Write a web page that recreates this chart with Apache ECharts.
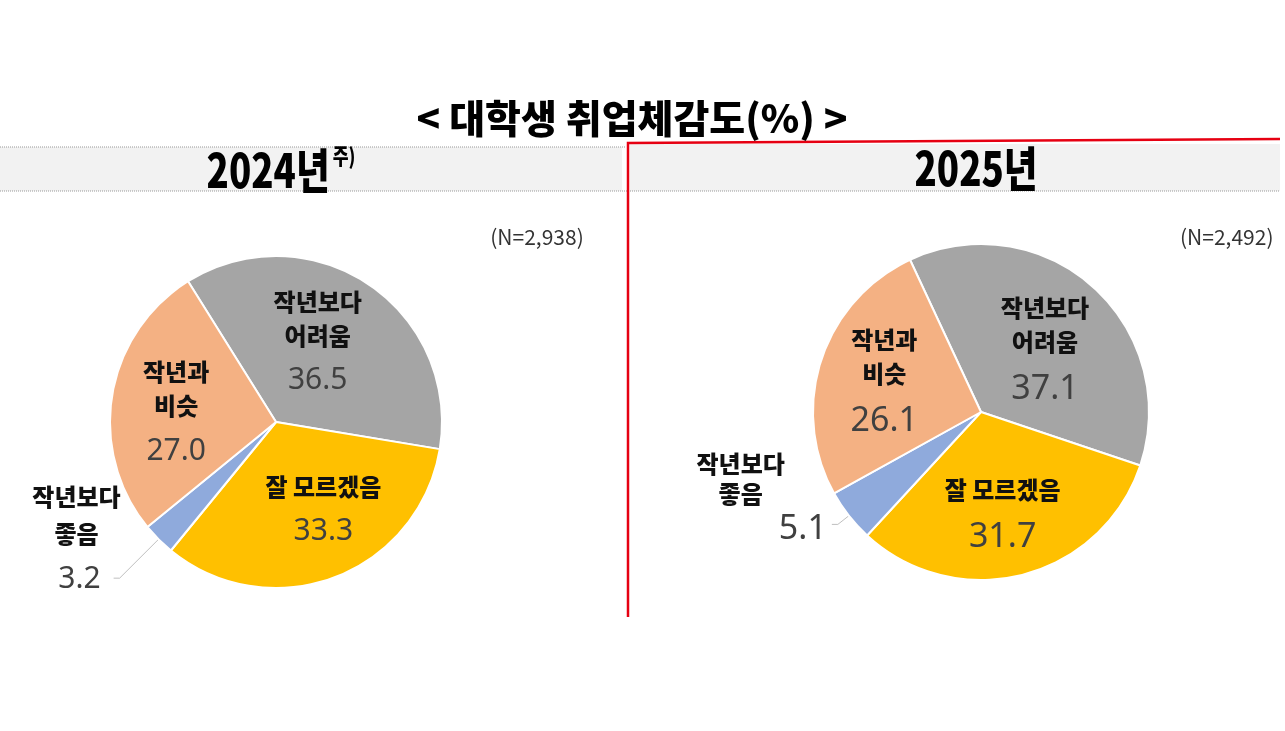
<!DOCTYPE html>
<html>
<head>
<meta charset="utf-8">
<script src="https://cdn.jsdelivr.net/npm/echarts@6/dist/echarts.min.js"></script>
<style>
  html, body { margin: 0; padding: 0; background: #fff; }
  #chart { width: 1285px; height: 731px; }
</style>
</head>
<body>
<div id="chart"></div>
<script>
// 데이터 =====================================================
var chartTitle = '< 대학생 취업체감도(%) >'
var years = ['2024년', '2025년']
var yearNotes = ['주)', '']
var sampleSizes = ['(N=2,938)', '(N=2,492)']
var categories = ['작년보다\n어려움', '잘 모르겠음', '작년보다\n좋음', '작년과\n비슷']
var values2024 = [36.5, 33.3, 3.2, 27.0]
var values2025 = [37.1, 31.7, 5.1, 26.1]

var colors = ['#A5A5A5', '#FFC000', '#8FAADC', '#F4B183']
var KR = '"Noto Sans CJK KR", "Noto Sans", sans-serif'
var NUM = '"Noto Sans", "Open Sans", sans-serif'

// 라벨 위치 미세 조정 (dx, dy)
var nudge2024 = [[-6, -4], [17, 12], [0, 0], [-15, 9]]
var nudge2025 = [[6, 8], [0, 24], [0, 0], [-14, 2]]

function pieSeries(values, center, radius, startAngle, valueSize, nudge, small) {
    var data = categories.map(function (name, i) {
        var item = { name: name, value: values[i], itemStyle: { color: colors[i] } }
        if (i === 2) {
            item.label = {
                position: 'outside',
                formatter: function (p) {
                    return '{sn|' + p.name + '}\n{sv|' + p.value.toFixed(1) + '}'
                }
            }
            item.labelLine = {
                show: true,
                length: small.length,
                length2: small.length2,
                lineStyle: { color: '#BFBFBF', width: 1 }
            }
        }
        return item
    })
    return {
        type: 'pie',
        center: center,
        radius: radius,
        startAngle: startAngle,
        clockwise: true,
        avoidLabelOverlap: false,
        silent: true,
        itemStyle: { borderColor: '#fff', borderWidth: 2 },
        label: {
            position: 'inside',
            formatter: function (p) {
                return '{n|' + p.name + '}\n{v|' + p.value.toFixed(1) + '}'
            },
            rich: {
                n: { fontFamily: KR, fontSize: 24, fontWeight: 900, color: '#111', lineHeight: 34 },
                v: { fontFamily: NUM, fontSize: valueSize, color: '#404040', lineHeight: valueSize + 26 },
                sn: { fontFamily: KR, fontSize: 24, fontWeight: 900, color: '#111', lineHeight: small.nameLine, align: 'center', padding: small.namePad },
                sv: { fontFamily: NUM, fontSize: valueSize, color: '#404040', lineHeight: small.valueLine, align: 'right', padding: small.valuePad }
            }
        },
        labelLine: { show: false },
        labelLayout: function (params) {
            if (params.dataIndex === 2) {
                return { verticalAlign: 'bottom', dx: small.dx, dy: small.dy }
            }
            return { dx: nudge[params.dataIndex][0], dy: nudge[params.dataIndex][1] }
        },
        data: data
    }
}

var myChart = echarts.init(document.getElementById('chart'))

var option = {
    backgroundColor: '#fff',
    animation: false,
    graphic: [
        // 헤더 띠
        { type: 'rect', shape: { x: 0, y: 147, width: 622, height: 44 }, style: { fill: '#F2F2F2' } },
        { type: 'rect', shape: { x: 630, y: 144, width: 650, height: 47 }, style: { fill: '#F2F2F2' } },
        { type: 'line', shape: { x1: 0, y1: 147, x2: 626, y2: 147 }, style: { stroke: '#9A9A9A', lineWidth: 1, lineDash: [1, 1] } },
        { type: 'line', shape: { x1: 0, y1: 191, x2: 1280, y2: 191 }, style: { stroke: '#9A9A9A', lineWidth: 1, lineDash: [1, 1] } },
        { type: 'polyline', shape: { points: [[628, 617], [628, 143], [1280, 139]] }, style: { stroke: '#E60012', lineWidth: 2.5, fill: null } },
        // 제목
        {
            type: 'text', x: 632, y: 118, scaleX: 1,
            style: { text: chartTitle, font: '900 39px ' + KR, fill: '#000', align: 'center', verticalAlign: 'middle' }
        },
        {
            type: 'text', x: 281, y: 170, scaleX: 0.78,
            style: {
                text: '{y|' + years[0] + '}{s|' + yearNotes[0] + '}',
                align: 'center', verticalAlign: 'middle',
                rich: {
                    y: { font: '900 47px ' + KR, fill: '#000', lineHeight: 50 },
                    s: { font: '900 22px ' + KR, fill: '#000', lineHeight: 50, verticalAlign: 'top', padding: [0, 0, 0, 4] }
                }
            }
        },
        {
            type: 'text', x: 976, y: 168, scaleX: 0.78,
            style: { text: years[1], font: '900 47px ' + KR, fill: '#000', align: 'center', verticalAlign: 'middle' }
        },
        {
            type: 'text', x: 537, y: 237,
            style: { text: sampleSizes[0], font: '21px ' + KR, fill: '#333', align: 'center', verticalAlign: 'middle' }
        },
        {
            type: 'text', x: 1180, y: 237,
            style: { text: sampleSizes[1], font: '21px ' + KR, fill: '#333', align: 'left', verticalAlign: 'middle' }
        }
    ],
    series: [
        pieSeries(values2024, [276, 422], 166, 122, 30, nudge2024,
            { length: 55, length2: 6, nameLine: 37, valueLine: 54, namePad: [0, 0, 0, 0], valuePad: [0, 20, 0, 0], dx: 12, dy: 28 }),
        pieSeries(values2025, [981, 412], 168, 115, 34, nudge2025,
            { length: 14, length2: 6, nameLine: 30, valueLine: 42, namePad: [0, 42, 0, 0], valuePad: [0, 0, 0, 0], dx: 0, dy: 26 })
    ]
}

myChart.setOption(option)
window.addEventListener('resize', function () {
    myChart.resize()
})
</script>
</body>
</html>
